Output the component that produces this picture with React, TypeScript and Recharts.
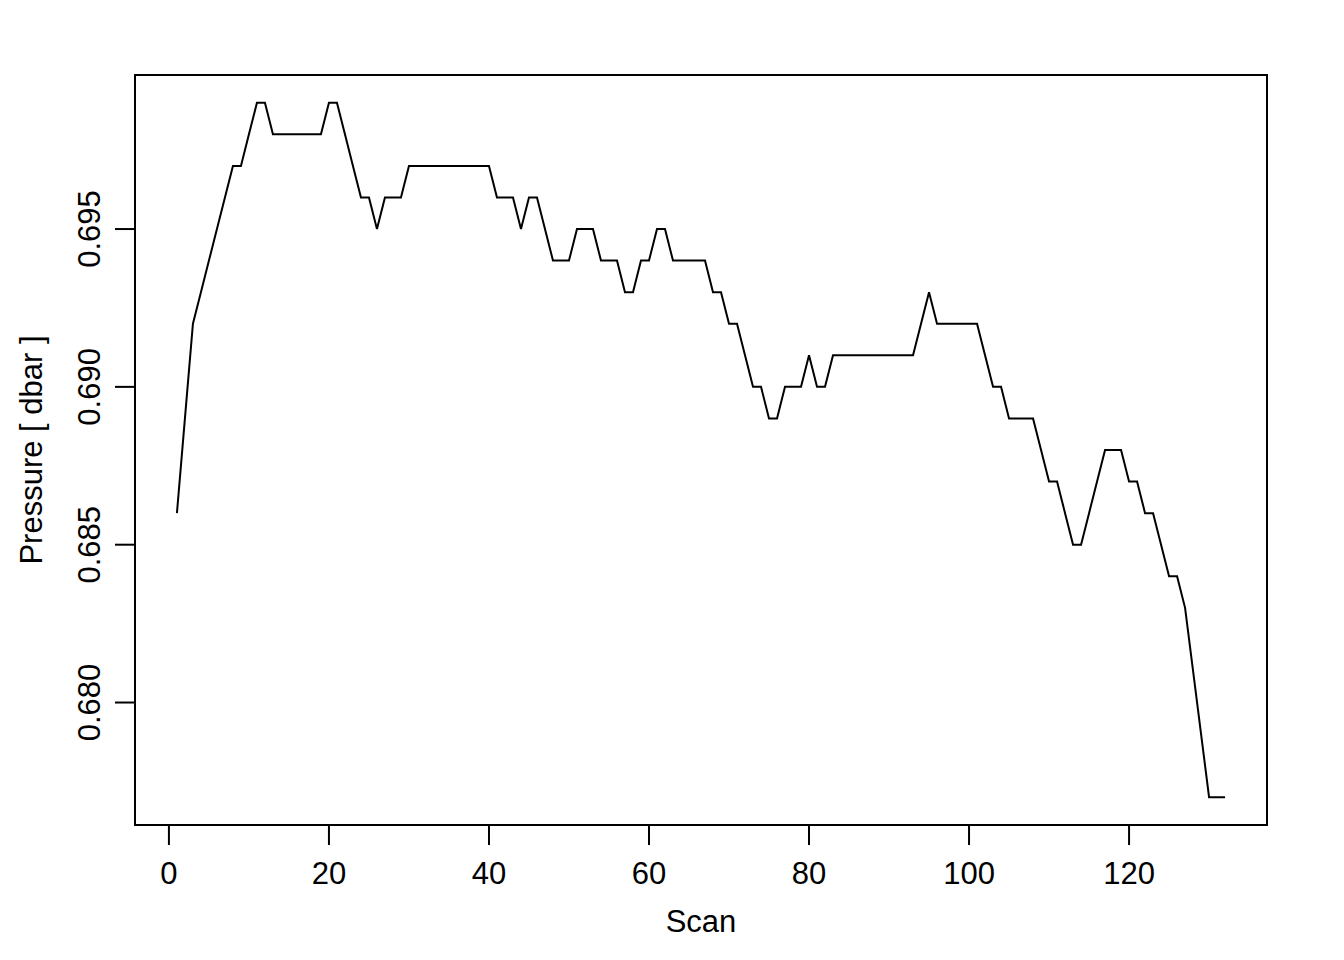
import { LineChart, Line, XAxis, YAxis, ReferenceArea } from "recharts"

const pressure = [
  0.686, 0.689, 0.692, 0.693, 0.694, 0.695, 0.696, 0.697, 0.697, 0.698,
  0.699, 0.699, 0.698, 0.698, 0.698, 0.698, 0.698, 0.698, 0.698, 0.699,
  0.699, 0.698, 0.697, 0.696, 0.696, 0.695, 0.696, 0.696, 0.696, 0.697,
  0.697, 0.697, 0.697, 0.697, 0.697, 0.697, 0.697, 0.697, 0.697, 0.697,
  0.696, 0.696, 0.696, 0.695, 0.696, 0.696, 0.695, 0.694, 0.694, 0.694,
  0.695, 0.695, 0.695, 0.694, 0.694, 0.694, 0.693, 0.693, 0.694, 0.694,
  0.695, 0.695, 0.694, 0.694, 0.694, 0.694, 0.694, 0.693, 0.693, 0.692,
  0.692, 0.691, 0.690, 0.690, 0.689, 0.689, 0.690, 0.690, 0.690, 0.691,
  0.690, 0.690, 0.691, 0.691, 0.691, 0.691, 0.691, 0.691, 0.691, 0.691,
  0.691, 0.691, 0.691, 0.692, 0.693, 0.692, 0.692, 0.692, 0.692, 0.692,
  0.692, 0.691, 0.690, 0.690, 0.689, 0.689, 0.689, 0.689, 0.688, 0.687,
  0.687, 0.686, 0.685, 0.685, 0.686, 0.687, 0.688, 0.688, 0.688, 0.687,
  0.687, 0.686, 0.686, 0.685, 0.684, 0.684, 0.683, 0.681, 0.679, 0.677,
  0.677, 0.677,
]

const xTicks = [0, 20, 40, 60, 80, 100, 120]
const yTicks = [0.68, 0.685, 0.69, 0.695]

const X_DOMAIN: [number, number] = [-4.24, 137.24]
const Y_DOMAIN: [number, number] = [0.67612, 0.69988]

const FONT = '"Liberation Sans", Arial, Helvetica, sans-serif'
const FS = 31

const data = pressure.map((p, i) => ({ scan: i + 1, pressure: p }))

const XTick = (props: any) => {
  const { x, payload } = props
  return (
    <text x={x} y={884} textAnchor="middle" fontFamily={FONT} fontSize={FS} fill="#000">
      {payload.value}
    </text>
  )
}

const YTick = (props: any) => {
  const { y, payload } = props
  return (
    <text
      x={100}
      y={y}
      transform={`rotate(-90, 100, ${y})`}
      textAnchor="middle"
      fontFamily={FONT}
      fontSize={FS}
      fill="#000"
    >
      {Number(payload.value).toFixed(3)}
    </text>
  )
}

const App = () => {
  return (
    <div style={{ position: "absolute", left: 0, top: 0, width: 1344, height: 960, background: "#fff" }}>
      <LineChart
        width={1344}
        height={960}
        data={data}
        margin={{ top: 75, right: 77, bottom: 75, left: 75 }}
      >
        <XAxis
          dataKey="scan"
          type="number"
          domain={X_DOMAIN}
          ticks={xTicks}
          allowDataOverflow
          height={60}
          axisLine={false}
          tickLine={{ stroke: "#000", strokeWidth: 2 }}
          tickSize={20}
          tick={<XTick />}
          interval={0}
        />
        <YAxis
          type="number"
          domain={Y_DOMAIN}
          ticks={yTicks}
          allowDataOverflow
          width={60}
          axisLine={false}
          tickLine={{ stroke: "#000", strokeWidth: 2 }}
          tickSize={20}
          tick={<YTick />}
          interval={0}
        />
        <ReferenceArea
          x1={X_DOMAIN[0]}
          x2={X_DOMAIN[1]}
          y1={Y_DOMAIN[0]}
          y2={Y_DOMAIN[1]}
          fill="none"
          stroke="#000"
          strokeWidth={2}
          ifOverflow="visible"
        />
        <Line
          type="linear"
          dataKey="pressure"
          stroke="#000"
          strokeWidth={2}
          dot={false}
          activeDot={false}
          isAnimationActive={false}
        />
      </LineChart>
      <svg
        width={1344}
        height={960}
        style={{ position: "absolute", left: 0, top: 0, pointerEvents: "none" }}
      >
        <text x={701} y={932} textAnchor="middle" fontFamily={FONT} fontSize={FS} fill="#000">
          Scan
        </text>
        <text
          x={42}
          y={450}
          transform="rotate(-90, 42, 450)"
          textAnchor="middle"
          fontFamily={FONT}
          fontSize={FS}
          fill="#000"
        >
          Pressure [ dbar ]
        </text>
      </svg>
    </div>
  )
}

export default App
